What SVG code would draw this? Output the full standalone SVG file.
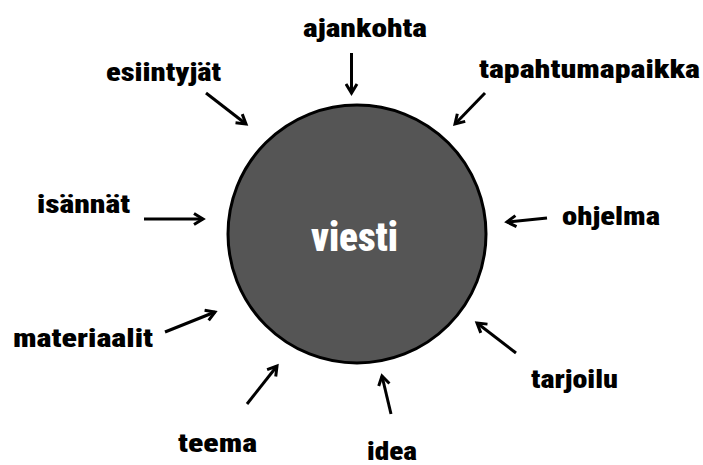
<svg xmlns="http://www.w3.org/2000/svg" width="703" height="465" viewBox="0 0 703 465">
<style>
.lbl{font-family:"Roboto Condensed",Roboto,"Liberation Sans",Arial,sans-serif;font-weight:900;font-size:25px;fill:#000}
.ctr{font-family:"Roboto Condensed",Roboto,"Liberation Sans",Arial,sans-serif;font-weight:900;font-size:40px;fill:#fff}
.arr{stroke:#000;stroke-width:3;fill:none;marker-end:url(#ah)}
</style>
<defs>
<marker id="ah" viewBox="0 0 14 14" refX="11" refY="7" markerWidth="14" markerHeight="14" markerUnits="userSpaceOnUse" orient="auto">
<path d="M2,1.5 L11,7 L2,12.5" fill="none" stroke="#000" stroke-width="3" stroke-linejoin="miter"/>
</marker>
</defs>
<rect width="703" height="465" fill="#fff"/>
<g id="viesti">
<circle cx="357" cy="234" r="129" fill="#555555" stroke="#000" stroke-width="3"/>
<text class="ctr" x="311" y="251" textLength="87" lengthAdjust="spacingAndGlyphs">viesti</text>
</g>
<g id="ajankohta"><text class="lbl" x="303" y="37" textLength="124" lengthAdjust="spacingAndGlyphs">ajankohta</text></g>
<g id="esiintyjat"><text class="lbl" x="106" y="81" textLength="115" lengthAdjust="spacingAndGlyphs">esiintyjät</text></g>
<g id="tapahtumapaikka"><text class="lbl" x="479" y="78" textLength="221" lengthAdjust="spacingAndGlyphs">tapahtumapaikka</text></g>
<g id="isannat"><text class="lbl" x="37" y="213" textLength="93" lengthAdjust="spacingAndGlyphs">isännät</text></g>
<g id="ohjelma"><text class="lbl" x="562" y="225" textLength="98" lengthAdjust="spacingAndGlyphs">ohjelma</text></g>
<g id="materiaalit"><text class="lbl" x="13" y="347" textLength="140" lengthAdjust="spacingAndGlyphs">materiaalit</text></g>
<g id="tarjoilu"><text class="lbl" x="531" y="388" textLength="87" lengthAdjust="spacingAndGlyphs">tarjoilu</text></g>
<g id="teema"><text class="lbl" x="178" y="452" textLength="79" lengthAdjust="spacingAndGlyphs">teema</text></g>
<g id="idea"><text class="lbl" x="367" y="460" textLength="50" lengthAdjust="spacingAndGlyphs">idea</text></g>
<g id="connectors">
<line class="arr" x1="351.5" y1="53" x2="351.5" y2="93"/>
<line class="arr" x1="206" y1="93" x2="246" y2="124"/>
<line class="arr" x1="485" y1="93" x2="455" y2="124"/>
<line class="arr" x1="144" y1="219" x2="203" y2="219"/>
<line class="arr" x1="547" y1="218" x2="507" y2="222"/>
<line class="arr" x1="165" y1="332" x2="215" y2="312"/>
<line class="arr" x1="516" y1="353" x2="477" y2="323"/>
<line class="arr" x1="247" y1="404" x2="277" y2="366"/>
<line class="arr" x1="391" y1="414" x2="382" y2="376"/>
</g>
</svg>
